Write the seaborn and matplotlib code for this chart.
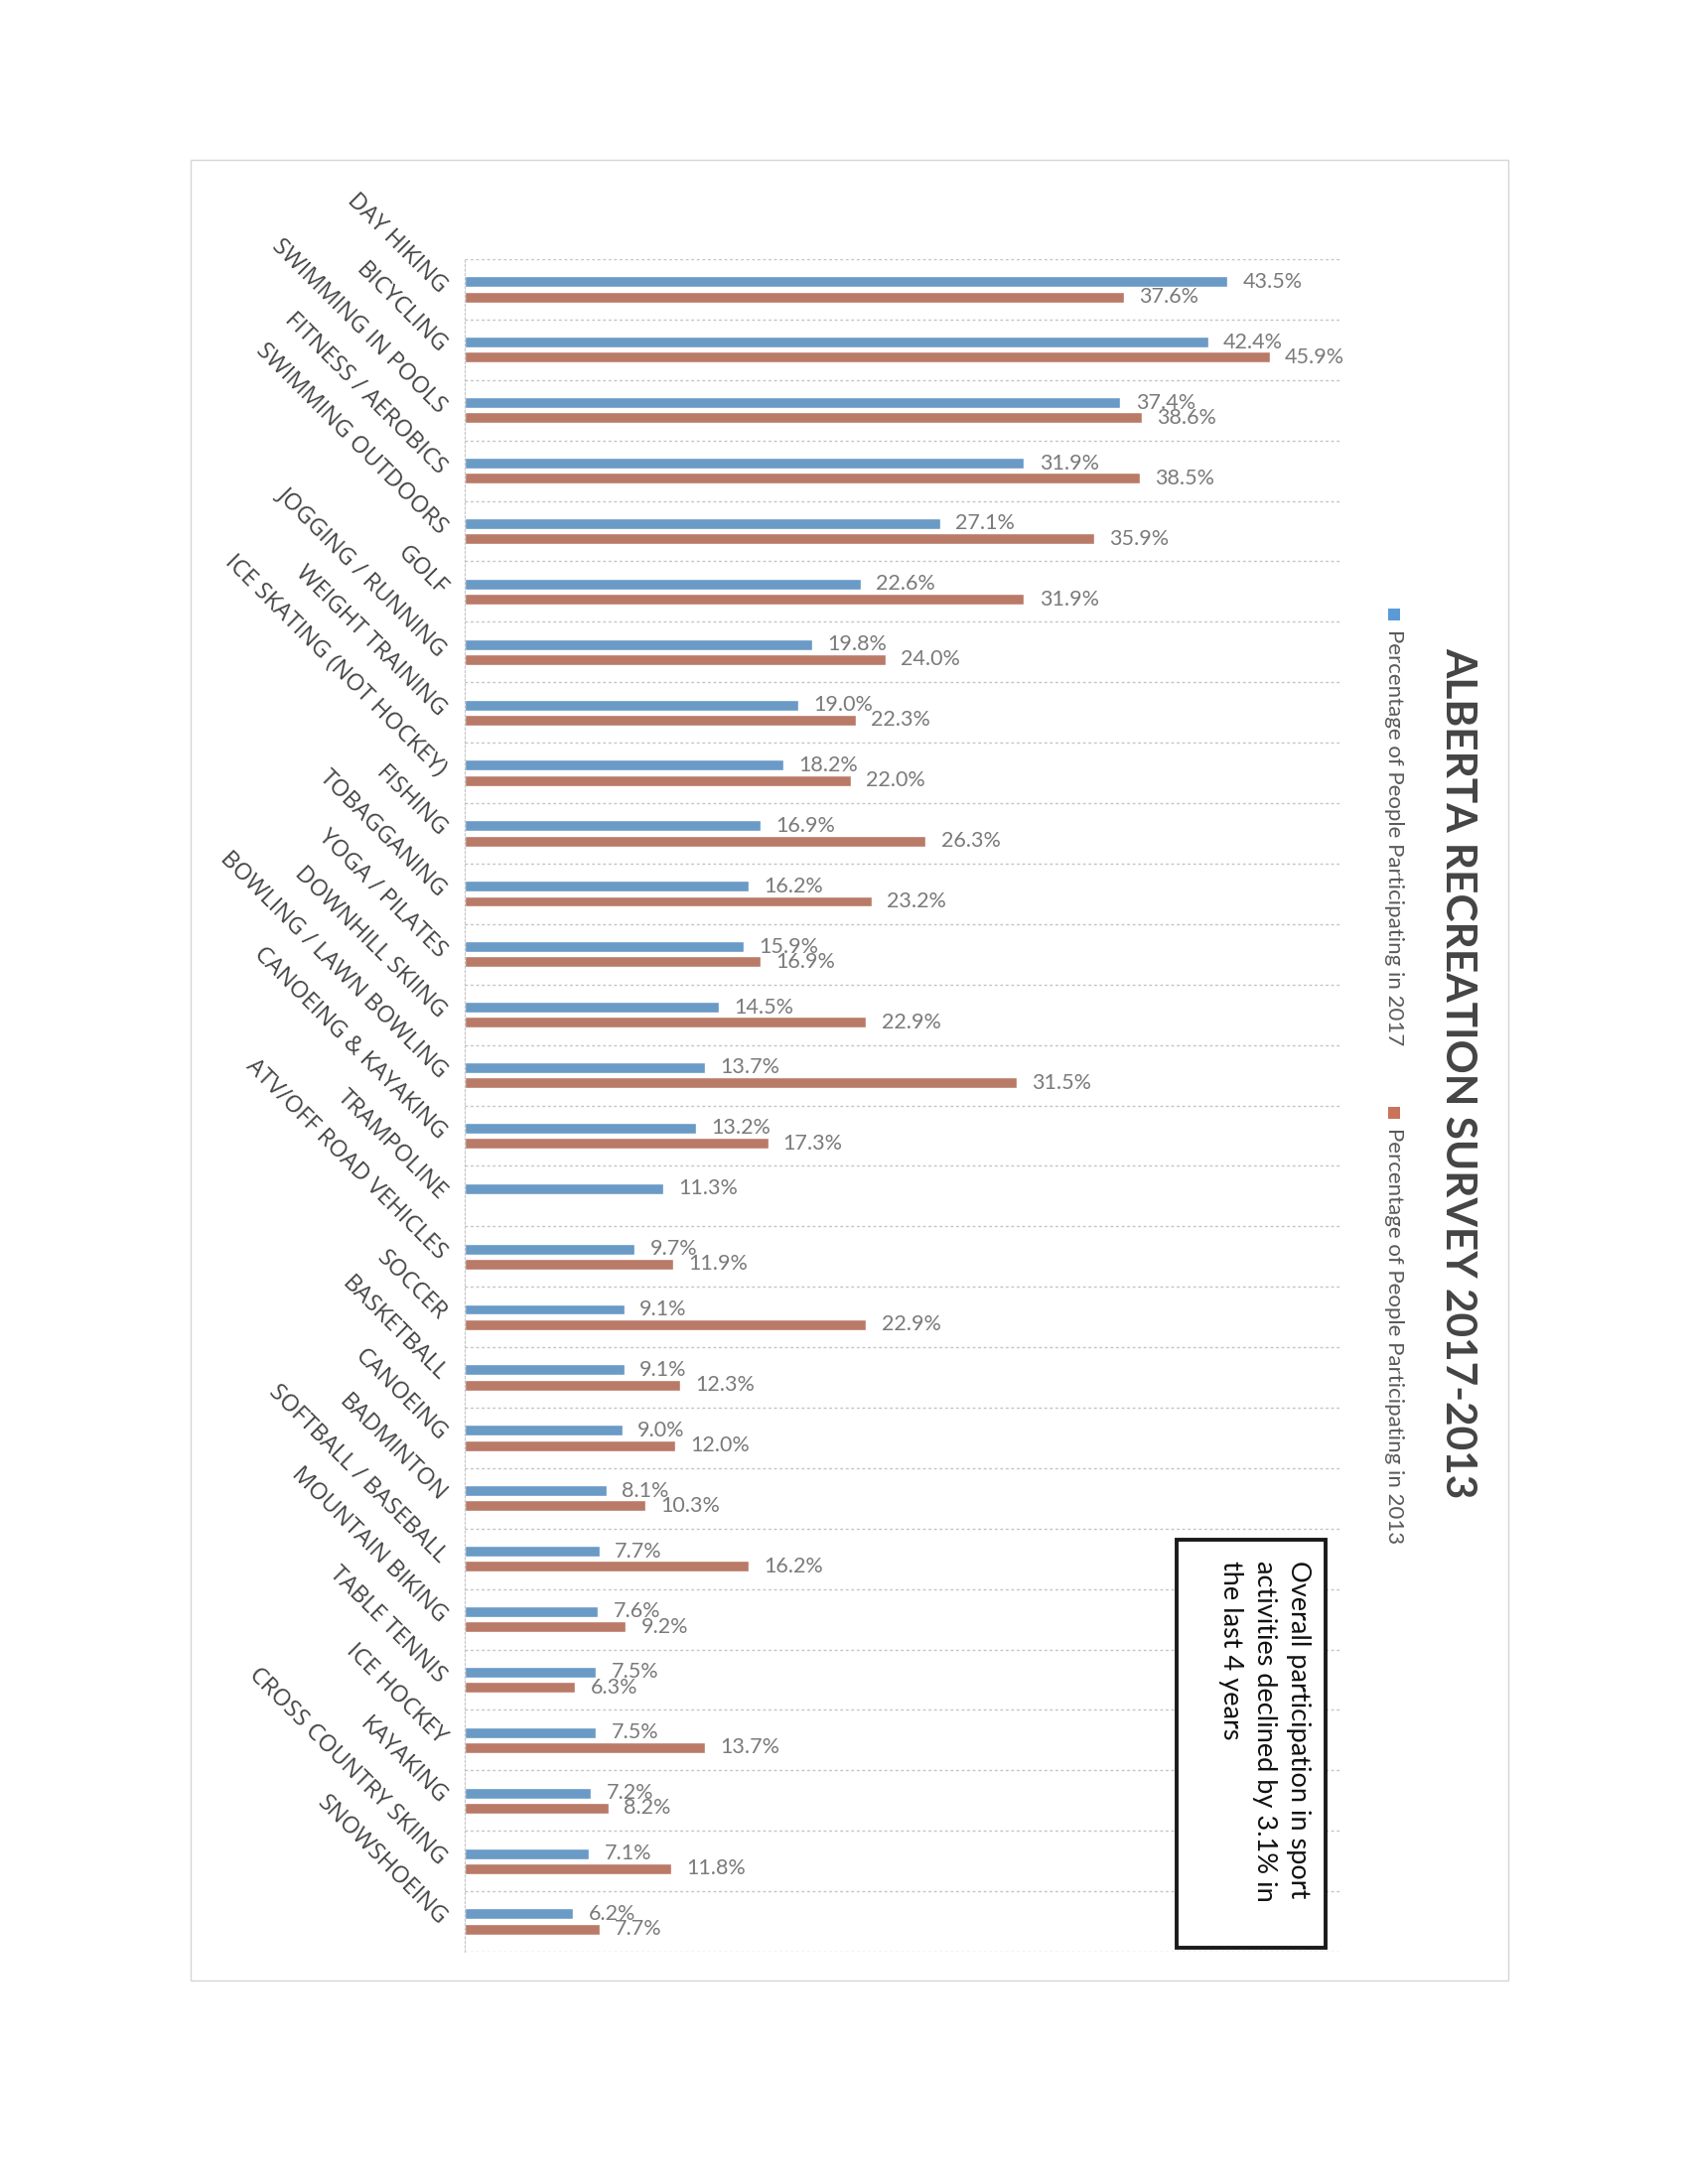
import matplotlib
matplotlib.use('agg')

import matplotlib.pyplot as plt
from matplotlib.patches import Rectangle
import seaborn as sns
import pandas as pd
import numpy as np

categories = ["DAY HIKING", "BICYCLING", "SWIMMING IN POOLS", "FITNESS / AEROBICS",
              "SWIMMING OUTDOORS", "GOLF", "JOGGING / RUNNING", "WEIGHT TRAINING",
              "ICE SKATING (NOT HOCKEY)", "FISHING", "TOBAGGANING", "YOGA / PILATES",
              "DOWNHILL SKIING", "BOWLING / LAWN BOWLING", "CANOEING & KAYAKING",
              "TRAMPOLINE", "ATV/OFF ROAD VEHICLES", "SOCCER", "BASKETBALL", "CANOEING",
              "BADMINTON", "SOFTBALL / BASEBALL", "MOUNTAIN BIKING", "TABLE TENNIS",
              "ICE HOCKEY", "KAYAKING", "CROSS COUNTRY SKIING", "SNOWSHOEING"]
pct_2017 = [43.5, 42.4, 37.4, 31.9, 27.1, 22.6, 19.8, 19.0, 18.2, 16.9, 16.2, 15.9, 14.5, 13.7,
            13.2, 11.3, 9.7, 9.1, 9.1, 9.0, 8.1, 7.7, 7.6, 7.5, 7.5, 7.2, 7.1, 6.2]
pct_2013 = [37.6, 45.9, 38.6, 38.5, 35.9, 31.9, 24.0, 22.3, 22.0, 26.3, 23.2, 16.9, 22.9, 31.5,
            17.3, np.nan, 11.9, 22.9, 12.3, 12.0, 10.3, 16.2, 9.2, 6.3, 13.7, 8.2, 11.8, 7.7]
series = ["Percentage of People Participating in 2017",
          "Percentage of People Participating in 2013"]
colors = ["#5b9bd5", "#c8735a"]

title = "ALBERTA RECREATION SURVEY 2017-2013"
note = "Overall participation in sport\nactivities declined by 3.1% in\nthe last 4 years"

df = pd.DataFrame({
    "activity": categories * 2,
    "pct": pct_2017 + pct_2013,
    "series": [series[0]] * len(categories) + [series[1]] * len(categories),
})

sns.set_style('white')
plt.rcParams['font.family'] = ['Lato', 'DejaVu Sans']

W, H = 1700, 2200
fig = plt.figure(figsize=(17, 22), dpi=100)
fig.patch.set_facecolor('white')

# page frame from the scan
fig.add_artist(Rectangle((192 / W, 1 - 1995 / H), (1519 - 192) / W, (1995 - 161) / H,
                         transform=fig.transFigure, fill=False, ec='#d6d6d6', lw=1))

ax = fig.add_axes([468 / W, 1 - 1966 / H, 883 / W, (1966 - 261) / H])
sns.barplot(data=df, y="activity", x="pct", hue="series", hue_order=series,
            order=categories, palette=colors, orient='h', width=0.5, gap=0.28,
            errorbar=None, legend=False, ax=ax)

for cont in ax.containers:
    labels = ['' if np.isnan(b.get_width()) else f'{b.get_width():.1f}%' for b in cont]
    ax.bar_label(cont, labels=labels, padding=11, fontsize=15.5, color='#7a7a7a')

ax.set_xlim(0, 50)
ax.set_ylim(27.5, -0.5)
ax.set_xlabel('')
ax.set_ylabel('')
ax.set_xticks([])
ax.set_yticks(range(len(categories)))
ax.set_yticklabels(categories, rotation=-45, ha='right', va='center',
                   rotation_mode='anchor', fontsize=17, color='#454545',
                   family=['Open Sans', 'DejaVu Sans'])
ax.tick_params(axis='y', length=0, pad=16)
ax.set_yticks(np.arange(-0.5, len(categories), 1), minor=True)
ax.tick_params(axis='y', which='minor', length=0)
ax.grid(which='minor', axis='y', linestyle=(0, (2, 2)), color='#c4c4c4', lw=1)
ax.set_axisbelow(True)
for s in ['top', 'right', 'bottom']:
    ax.spines[s].set_visible(False)
ax.spines['left'].set_linestyle((0, (2, 2)))
ax.spines['left'].set_color('#c4c4c4')

# title, rotated
fig.text(1468 / W, 1 - 652 / H, title, rotation=-90, ha='center', va='top',
         fontsize=30.5, fontweight='bold', color='#444444')

# legend, rotated
for (ym, yt), name, c in zip([(619, 634), (1121, 1136)], series, colors):
    fig.add_artist(Rectangle((1398 / W, 1 - (ym + 6) / H), 12 / W, 12 / H,
                             transform=fig.transFigure, fc=c, ec='none'))
    fig.text(1404 / W, 1 - yt / H, name, rotation=-90, ha='center', va='top',
             fontsize=16, color='#595959')

# note box
fig.add_artist(Rectangle((1185 / W, 1 - 1962 / H), 150 / W, 411 / H,
                         transform=fig.transFigure, fc='white', ec='#1a1a1a', lw=2.8))
fig.text(1320 / W, 1 - 1572 / H, note, rotation=-90, ha='right', va='top',
         multialignment='left', fontsize=19.5, linespacing=1.45, color='#111111')

fig.savefig('out.png', dpi=100, facecolor='white')
